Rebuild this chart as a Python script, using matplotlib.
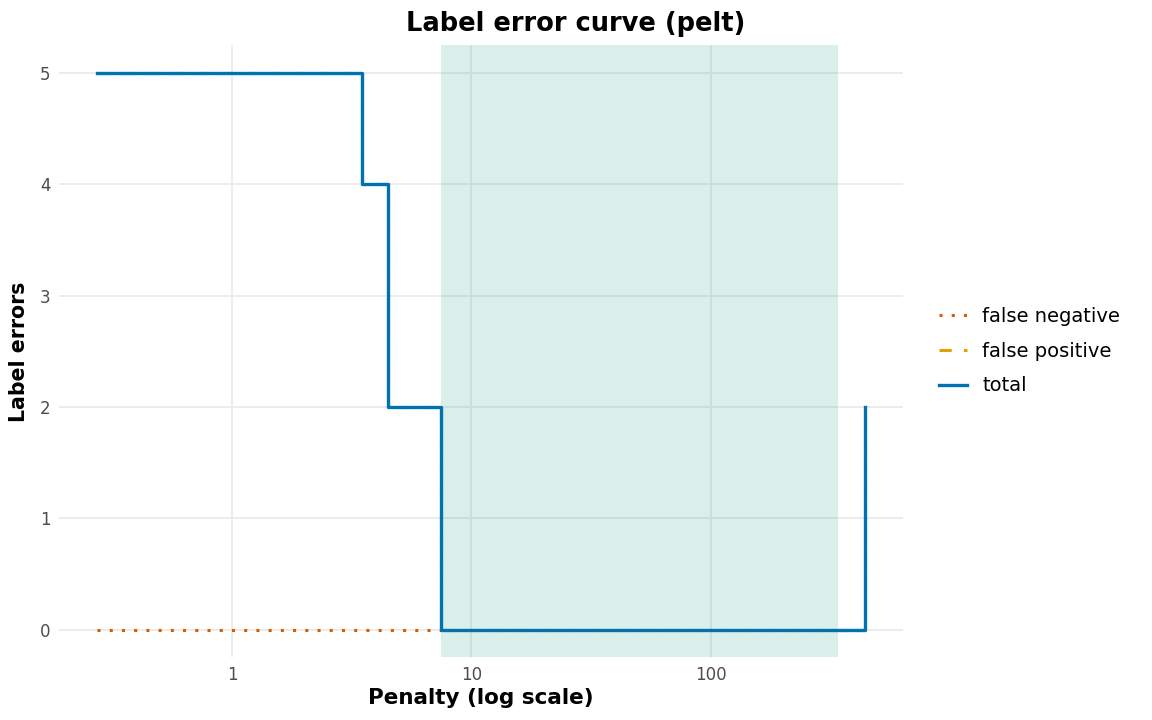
import numpy as np
import matplotlib.pyplot as plt

# step curve: penalty where each segment starts, error counts
penalty = [0.273, 3.49, 4.48, 7.46, 440]
false_negative = [0, 0, 0, 0, 2]
false_positive = [5, 4, 2, 0, 0]
total = [5, 4, 2, 0, 2]

# penalty interval with minimum error
best_lo = 7.46
best_hi = 339

fig = plt.figure(figsize=(11.52, 7.2), dpi=100)
ax = fig.add_axes([0.051, 0.087, 0.733, 0.85])

ax.axvspan(best_lo, best_hi, color='#009E73', alpha=0.15, lw=0, zorder=1)

ax.plot(penalty, false_negative, drawstyle='steps-post', color='#D55E00',
        lw=2.2, linestyle=(0, (1, 3)), label='false negative', zorder=3)
ax.plot(penalty, false_positive, drawstyle='steps-post', color='#E69F00',
        lw=2.2, linestyle=(0, (4, 4)), label='false positive', zorder=3)
ax.plot(penalty, total, drawstyle='steps-post', color='#0072B2',
        lw=2.4, label='total', zorder=4)

ax.set_xscale('log')
lo, hi = np.log10(penalty[0]), np.log10(penalty[-1])
pad = 0.05 * (hi - lo)
ax.set_xlim(10 ** (lo - pad), 10 ** (hi + pad))
ax.set_ylim(-0.25, 5.25)
ax.set_xticks([1, 10, 100])
ax.set_xticklabels(['1', '10', '100'])
ax.xaxis.set_minor_locator(plt.NullLocator())
ax.set_yticks([0, 1, 2, 3, 4, 5])

ax.grid(True, color='#EBEBEB', lw=1.3, zorder=0)
ax.set_axisbelow(True)
for s in ax.spines.values():
    s.set_visible(False)
ax.tick_params(length=0, labelsize=12, labelcolor='#4D4D4D', pad=6)

fig.suptitle('Label error curve (pelt)', x=0.5, y=0.985, fontsize=18.5,
             fontweight='bold')
ax.set_xlabel('Penalty (log scale)', fontsize=15.5, fontweight='bold', labelpad=3)
ax.set_ylabel('Label errors', fontsize=14.8, fontweight='bold', labelpad=8)

leg = ax.legend(loc='center left', bbox_to_anchor=(1.022, 0.5), frameon=False,
                fontsize=14, handlelength=1.45, handletextpad=0.75,
                labelspacing=0.8)

fig.savefig('out.png', dpi=100)
